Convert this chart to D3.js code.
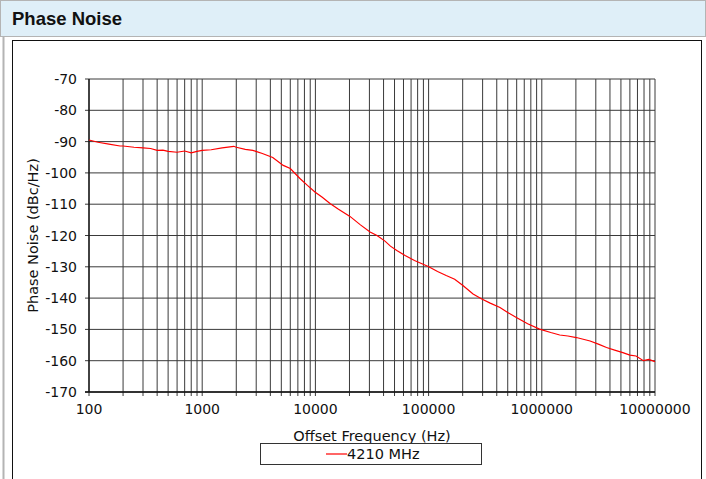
<!DOCTYPE html>
<html>
  <head>
    <meta charset="utf-8">
    <title>Phase Noise</title>
    <script src="https://d3js.org/d3.v7.min.js"></script>
    <style>
      body { margin: 0; background: #fff; }
      svg { display: block; }
      text { font-family: "DejaVu Sans", Verdana, sans-serif; fill: #111; }
    </style>
  </head>
  <body>
    <svg id="svg" width="706" height="479"></svg>
    <script type="text/javascript">
// offset frequency (Hz) and phase noise (dBc/Hz)
var freqs = [100, 120, 150, 188, 200, 250, 300, 350, 400, 450, 500, 600, 700, 800, 900, 1000,
  1200, 1500, 1900, 2000, 2400, 2800, 3400, 4200, 5200, 6000, 7300, 8500, 9900, 11500, 13460,
  16000, 20200, 25000, 30400, 35000, 41200, 46000, 52400, 62000, 75000, 99400, 120000, 143000,
  170000, 201000, 247000, 295000, 350000, 427000, 500000, 596000, 750000, 955000, 1200000,
  1440000, 1700000, 2020000, 2670000, 3200000, 3730000, 4400000, 5200000, 6000000, 6800000,
  7900000, 8800000, 10000000];
var noise = [-89.5, -90.2, -90.8, -91.4, -91.4, -91.8, -92.0, -92.2, -92.8, -92.7, -93.1, -93.4,
  -93.0, -93.6, -93.1, -92.8, -92.6, -92.0, -91.5, -91.8, -92.5, -92.8, -93.8, -95.1, -97.6,
  -98.6, -101.8, -104.0, -106.1, -107.8, -109.8, -111.6, -113.9, -116.6, -118.9, -120.0, -121.8,
  -123.4, -124.8, -126.4, -128.0, -129.9, -131.5, -132.8, -134.0, -136.0, -138.7, -140.3,
  -141.6, -143.0, -144.6, -146.2, -148.2, -149.9, -151.0, -151.8, -152.1, -152.6, -153.7,
  -154.8, -155.8, -156.6, -157.4, -158.2, -158.5, -160.0, -159.6, -160.3];
var yTicks = [-70, -80, -90, -100, -110, -120, -130, -140, -150, -160, -170];
var xTicks = [100, 1000, 10000, 100000, 1000000, 10000000];
var seriesName = "4210 MHz";

var svg = d3.select('#svg');

// header band
svg.append('rect').attr('x', 0.5).attr('y', 0.5).attr('width', 705).attr('height', 36)
  .style('fill', '#dfeff8').style('stroke', '#b4b4b4');
svg.append('text').attr('x', 12).attr('y', 25)
  .style('font-family', '"Liberation Sans", Arial, sans-serif')
  .style('font-weight', 'bold').style('font-size', '18.5px')
  .text('Phase Noise');

// panel borders
svg.append('line').attr('x1', 3.5).attr('x2', 3.5).attr('y1', 37).attr('y2', 479)
  .style('stroke', '#b4b4b4').style('stroke-width', 2);
svg.append('rect').attr('x', 12.5).attr('y', 40.5).attr('width', 689).attr('height', 450)
  .style('fill', 'none').style('stroke', '#111');

var plotL = 89, plotR = 655, plotT = 79, plotB = 392;
var x = d3.scaleLog().domain([100, 10000000]).range([plotL, plotR]);
var y = d3.scaleLinear().domain([-170, -70]).range([plotB, plotT]);

// vertical grid: 1..9 per decade
var minor = [];
for (var d = 100; d < 10000000; d *= 10) {
  for (var k = 1; k < 10; k++) minor.push(d * k);
}
minor.push(10000000);

var grid = svg.append('g').style('stroke', '#3a3a3a').style('stroke-width', 1);
grid.selectAll('line.v').data(minor).enter().append('line')
  .attr('class', 'v')
  .attr('x1', function (d) { return x(d); }).attr('x2', function (d) { return x(d); })
  .attr('y1', plotT).attr('y2', plotB + 4);
grid.selectAll('line.h').data(yTicks).enter().append('line')
  .attr('class', 'h')
  .attr('x1', plotL - 4).attr('x2', plotR)
  .attr('y1', function (d) { return y(d); }).attr('y2', function (d) { return y(d); });

// axis lines
svg.append('line').attr('x1', plotL).attr('x2', plotL).attr('y1', plotT).attr('y2', plotB)
  .style('stroke', '#111').style('stroke-width', 1.3);
svg.append('line').attr('x1', plotL - 4).attr('x2', plotR).attr('y1', plotB).attr('y2', plotB)
  .style('stroke', '#111').style('stroke-width', 1.3);

// tick labels
svg.selectAll('text.yl').data(yTicks).enter().append('text')
  .attr('class', 'yl')
  .attr('x', 77).attr('y', function (d) { return y(d); })
  .attr('dy', '0.36em').attr('text-anchor', 'end')
  .style('font-size', '14px')
  .text(function (d) { return d; });
svg.selectAll('text.xl').data(xTicks).enter().append('text')
  .attr('class', 'xl')
  .attr('x', function (d) { return x(d); }).attr('y', 414)
  .attr('text-anchor', 'middle')
  .style('font-size', '14px')
  .text(function (d) { return d; });

// axis titles
svg.append('text').attr('x', 372).attr('y', 441).attr('text-anchor', 'middle')
  .style('font-size', '14.5px').text('Offset Frequency (Hz)');
svg.append('text').attr('transform', 'translate(38,' + ((plotT + plotB) / 2) + ') rotate(-90)')
  .attr('text-anchor', 'middle').style('font-size', '14.5px')
  .text('Phase Noise (dBc/Hz)');

// series
var line = d3.line()
  .x(function (d, i) { return x(freqs[i]); })
  .y(function (d) { return y(d); });
svg.append('path').datum(noise).attr('d', line)
  .style('fill', 'none').style('stroke', '#ff0000').style('stroke-width', 1.2);

// legend
svg.append('rect').attr('x', 260.5).attr('y', 443.5).attr('width', 221).attr('height', 21)
  .style('fill', '#fff').style('stroke', '#333');
svg.append('line').attr('x1', 326).attr('x2', 347).attr('y1', 454).attr('y2', 454)
  .style('stroke', '#ff0000').style('stroke-width', 1.2);
svg.append('text').attr('x', 347).attr('y', 454).attr('dy', '0.36em')
  .style('font-size', '14.5px').text(seriesName);
    </script>
  </body>
</html>
